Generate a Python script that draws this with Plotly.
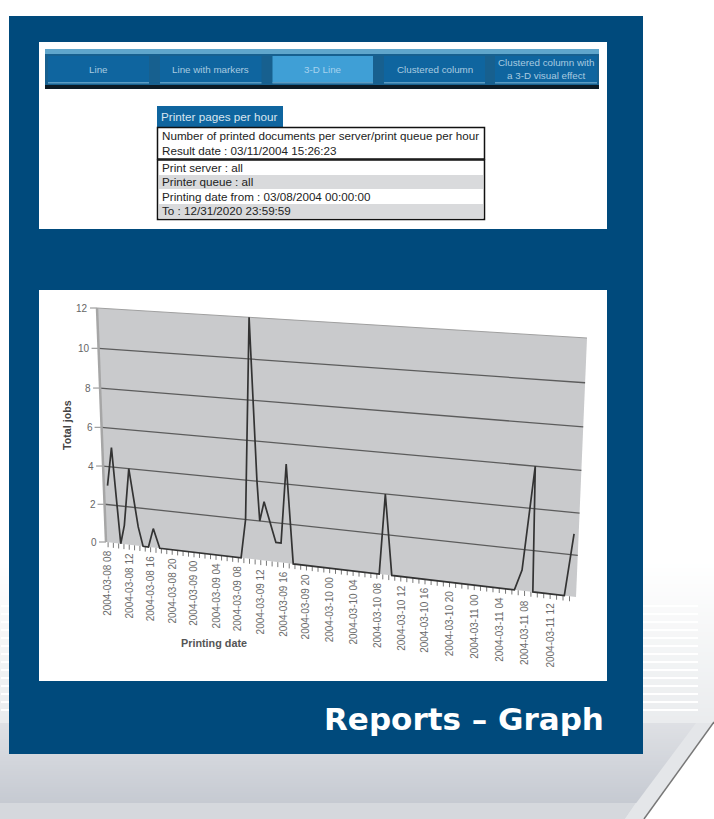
import plotly.graph_objects as go

# ---------- data ----------
hours = [0.3, 1.3, 2.4, 3.2, 4.4, 5.8, 6.6, 7.6, 8.6, 9.7, 24.5, 25.4, 26.5, 27.5, 27.9, 28.7,
         30.7, 31.6, 32.6, 33.7, 48.4, 49.3, 50.5, 70.4, 71.5, 73.0, 73.3, 78.2, 79.3]
total_jobs = [3, 5, 0, 1, 4, 1, 0, 0, 1, 0, 0, 2, 12, 4, 2, 3,
              1, 1, 5, 0, 0, 4, 0, 0, 1, 6, 0, 0, 3]
y_ticks = [0, 2, 4, 6, 8, 10, 12]
x_tick_hours = [0, 4, 8, 12, 16, 20, 24, 28, 32, 36, 40, 44, 48, 52, 56, 60, 64, 68, 72, 76]
x_tick_labels = ["2004-03-08 08", "2004-03-08 12", "2004-03-08 16", "2004-03-08 20",
                 "2004-03-09 00", "2004-03-09 04", "2004-03-09 08", "2004-03-09 12",
                 "2004-03-09 16", "2004-03-09 20", "2004-03-10 00", "2004-03-10 04",
                 "2004-03-10 08", "2004-03-10 12", "2004-03-10 16", "2004-03-10 20",
                 "2004-03-11 00", "2004-03-11 04", "2004-03-11 08", "2004-03-11 12"]
buttons = ["Line", "Line with markers", "3-D Line", "Clustered column",
           "Clustered column with<br>a 3-D visual effect"]
report_lines = ["Print server : all", "Printer queue : all",
                "Printing date from : 03/08/2004 00:00:00", "To : 12/31/2020 23:59:59"]

NAVY = "#004a7c"
FONT = "Liberation Sans"

# ---------- tilted chart wall (projective map of hour / value) ----------
H0, H1, VMAX = -0.4, 80.0, 12.0
P00, P10, P11, P01 = (106, 542), (576, 597), (587, 338), (97, 308)


def _solve():
    x0, y0 = P00; x1, y1 = P10; x2, y2 = P11; x3, y3 = P01
    dx1, dx2, sx = x1 - x2, x3 - x2, x0 - x1 + x2 - x3
    dy1, dy2, sy = y1 - y2, y3 - y2, y0 - y1 + y2 - y3
    d = dx1 * dy2 - dx2 * dy1
    g = (sx * dy2 - dx2 * sy) / d
    h = (dx1 * sy - sx * dy1) / d
    return (x1 - x0 + g * x1, x3 - x0 + h * x3, x0,
            y1 - y0 + g * y1, y3 - y0 + h * y3, y0, g, h)


A, B, C, D, E, F, G, K = _solve()


def wall(hour, value):
    u, v = (hour - H0) / (H1 - H0), value / VMAX
    w = G * u + K * v + 1
    return (A * u + B * v + C) / w, (D * u + E * v + F) / w


def lerp(c1, c2, t):
    return "rgb(%d,%d,%d)" % tuple(round(a + (b - a) * t) for a, b in zip(c1, c2))


shapes, notes = [], []


def rect(x0, y0, x1, y1, fill, line=None, lw=0):
    shapes.append(dict(type="rect", xref="x", yref="y", x0=x0, y0=y0, x1=x1, y1=y1, layer="below",
                       fillcolor=fill, line=dict(color=line or fill, width=lw)))


def poly(points, fill):
    path = "M" + "L".join(f"{x},{y}" for x, y in points) + "Z"
    shapes.append(dict(type="path", xref="x", yref="y", path=path, layer="below",
                       fillcolor=fill, line=dict(width=0)))


def text(x, y, s, size=10, color="#222", xanchor="left", yanchor="middle", angle=0, bold=False, family=FONT):
    notes.append(dict(x=x, y=y, xref="x", yref="y", text=f"<b>{s}</b>" if bold else s, showarrow=False,
                      xanchor=xanchor, yanchor=yanchor, textangle=angle, align="center",
                      font=dict(family=family, size=size, color=color), borderpad=0, borderwidth=0))


# ---------- page background ----------
for i in range(41):                                  # pale fade above the grey band
    y = 560 + i * 4
    t = i / 40
    poly([(0, y), (714, y), (714, y + 4), (0, y + 4)], lerp((255, 255, 255), (234, 236, 238), t))
for y in range(605, 716, 8):                          # pale stripes
    rect(643, y, 698, y + 2, "#ffffff")
    rect(1, y, 9, y + 2, "#ffffff")
# lighter outer band, then the grey block in front of it
poly([(0, 723), (714, 723), (644, 819), (0, 819)], "#e4e6e9")
for i in range(40):
    y = 723 + i * 2
    r0 = 696 - i * 2 * (59 / 79)
    r1 = 696 - (i + 1) * 2 * (59 / 79)
    poly([(0, y), (r0, y), (r1, y + 2), (0, y + 2)], lerp((222, 224, 228), (198, 202, 210), i / 39))
poly([(0, 803), (636, 803), (625, 819), (0, 819)], "#d5d8dd")
poly([(625, 819), (636, 803), (640, 803), (630, 819)], "#e4e6e9")
poly([(714, 722), (714, 819), (644, 819)], "#ffffff")
shapes.append(dict(type="line", xref="x", yref="y", x0=714, y0=722, x1=644, y1=819, layer="below",
                   line=dict(color="#777777", width=1.5)))
rect(9, 16, 643, 754, NAVY)

# ---------- top screenshot ----------
rect(39, 42, 607, 229, "#ffffff")
rect(45, 49, 599, 86, "#17608f")
rect(45, 49, 599, 54, "#5fa6cc")
rect(45, 85, 599, 89, "#0c1a24")
for i, (x0, x1, label) in enumerate(zip([48, 160, 272.5, 384, 495], [149, 261.5, 373, 485, 597], buttons)):
    rect(x0, 56, x1, 83, "#3f9fd6" if i == 2 else "#0f659f")
    rect(x0, 82, x1, 83.5, "#5b9cc4")
    text((x0 + x1) / 2, 69, label, size=9.8, color="#a9cbe0" if i != 2 else "#a6d2ee", xanchor="center")
rect(157, 106, 283, 127, "#0f659f")
text(161, 116, "Printer pages per hour", size=11.7, color="#d8e6f0")
rect(157.5, 127.5, 484.5, 159, "#ffffff", "#111111", 1.5)
text(162, 135, "Number of printed documents per server/print queue per hour", size=11.65)
text(162, 150, "Result date : 03/11/2004 15:26:23", size=11.65)
rect(157.5, 160, 484.5, 219.5, "#ffffff", "#111111", 1.5)
rect(159, 175, 483, 189, "#d9dadc")
rect(159, 204, 483, 218.5, "#d9dadc")
for y, line in zip([167, 181, 196, 210], report_lines):
    text(162, y, line, size=11.65)

# ---------- bottom screenshot ----------
rect(39, 290, 607, 681, "#ffffff")
corners = [wall(H0, 0), wall(H1, 0), wall(H1, VMAX), wall(H0, VMAX)]
poly(corners, "#c9cacc")
for v in y_ticks:                                     # horizontal gridlines + y ticks + labels
    (xa, ya), (xb, yb) = wall(H0, v), wall(H1, v)
    shapes.append(dict(type="line", xref="x", yref="y", x0=xa - 7, y0=ya, x1=xa, y1=ya, layer="below",
                       line=dict(color="#8a8a8a", width=1)))
    if v:
        shapes.append(dict(type="line", xref="x", yref="y", x0=xa, y0=ya, x1=xb, y1=yb, layer="below",
                           line=dict(color="#5c5c5c" if v < 12 else "#a0a0a0", width=1.3 if v < 12 else 1)))
    text(xa - 9, ya, str(v), size=10, color="#666666", xanchor="right")
(xa, ya), (xb, yb) = wall(H0, 0), wall(H0, VMAX)
shapes.append(dict(type="line", xref="x", yref="y", x0=xa, y0=ya, x1=xb, y1=yb, layer="below",
                   line=dict(color="#a6a6a6", width=2.5)))

for hr in range(0, 80):                               # hourly ticks under the wall
    xt, yt = wall(hr, 0)
    shapes.append(dict(type="line", xref="x", yref="y", x0=xt, y0=yt, x1=xt, y1=yt + 5, layer="below",
                       line=dict(color="#777777", width=1)))
for hr, label in zip(x_tick_hours, x_tick_labels):
    xt, yt = wall(hr, 0)
    text(xt, yt + 9, label, size=10, color="#6a6a6a", xanchor="center", yanchor="top", angle=-90)

text(67, 425, "Total jobs", size=10.7, color="#444444", xanchor="center", angle=-90, bold=True)
text(214, 643, "Printing date", size=10.8, color="#555555", xanchor="center", bold=True)
text(604, 719, "Reports – Graph", size=31, color="#ffffff", xanchor="right", bold=True, family="DejaVu Sans")

# ---------- series ----------
pts = [wall(h, v) for h, v in zip(hours, total_jobs)]
fig = go.Figure(go.Scatter(x=[p[0] for p in pts], y=[p[1] for p in pts], mode="lines",
                           line=dict(color="#333333", width=1.7), hoverinfo="skip"))
fig.update_layout(
    width=714, height=819, margin=dict(l=0, r=0, t=0, b=0), showlegend=False,
    paper_bgcolor="#ffffff", plot_bgcolor="#ffffff", shapes=shapes, annotations=notes,
    xaxis=dict(range=[0, 714], visible=False, fixedrange=True),
    yaxis=dict(range=[819, 0], visible=False, fixedrange=True),
)
fig.write_html("out.html", config={"displayModeBar": False},
               post_script="document.body.style.margin='0';document.body.style.overflow='hidden';")
